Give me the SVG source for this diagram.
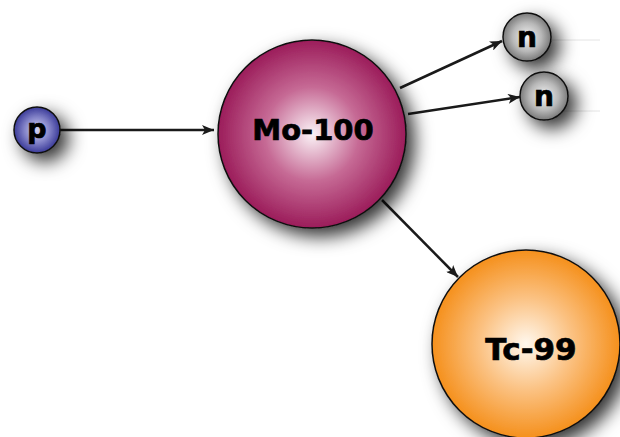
<svg xmlns="http://www.w3.org/2000/svg" width="620" height="437" viewBox="0 0 620 437">
  <defs>
    <radialGradient id="gP" cx="0.5" cy="0.5" r="0.5">
      <stop offset="0" stop-color="#d4d4f2"/>
      <stop offset="0.55" stop-color="#8383c8"/>
      <stop offset="1" stop-color="#3a3a98"/>
    </radialGradient>
    <radialGradient id="gMo" cx="0.5" cy="0.5" r="0.5">
      <stop offset="0" stop-color="#fbf3f7"/>
      <stop offset="0.5" stop-color="#c66a95"/>
      <stop offset="1" stop-color="#9b1c5a"/>
    </radialGradient>
    <radialGradient id="gTc" cx="0.5" cy="0.5" r="0.5">
      <stop offset="0" stop-color="#fff8ee"/>
      <stop offset="0.5" stop-color="#fbc181"/>
      <stop offset="1" stop-color="#f5901c"/>
    </radialGradient>
    <radialGradient id="gN" cx="0.5" cy="0.5" r="0.5">
      <stop offset="0" stop-color="#f4f4f4"/>
      <stop offset="0.6" stop-color="#b8b8b8"/>
      <stop offset="1" stop-color="#7a7a7a"/>
    </radialGradient>
    <filter id="shadow" x="-50%" y="-50%" width="210%" height="210%">
      <feDropShadow dx="8" dy="8" stdDeviation="9" flood-color="#000" flood-opacity="0.8"/>
    </filter>
    <marker id="arrow" viewBox="0 0 12 10" refX="12" refY="5" markerWidth="12" markerHeight="10" markerUnits="userSpaceOnUse" orient="auto">
      <path d="M0,0 L12,5 L0,10 L3,5 Z" fill="#1a1a1a"/>
    </marker>
  </defs>
  <style>
    .ball { stroke: #111; stroke-width: 1.5; filter: url(#shadow); }
    .lbl { font-family: "DejaVu Sans", "Liberation Sans", sans-serif; font-weight: bold; fill: #000; stroke: #000; stroke-width: 0.7; text-anchor: middle; }
    .edge { stroke: #1a1a1a; stroke-width: 2.5; fill: none; marker-end: url(#arrow); }
    .trace { stroke: #d8d8d8; stroke-width: 1; opacity: 0.7; }
  </style>

  <rect width="620" height="437" fill="#ffffff"/>

  <!-- faint horizontal traces behind the neutrons -->
  <g id="traces">
    <line class="trace" x1="527" y1="40" x2="600" y2="40"/>
    <line class="trace" x1="545" y1="111" x2="600" y2="111"/>
  </g>

  <g id="connectors">
    <line class="edge" x1="60" y1="130" x2="214" y2="130"/>
    <line class="edge" x1="400" y1="88" x2="502" y2="41"/>
    <line class="edge" x1="408" y1="114" x2="520" y2="97"/>
    <line class="edge" x1="382" y1="200" x2="458" y2="277"/>
  </g>

  <g id="proton">
    <circle class="ball" cx="37" cy="130" r="23" fill="url(#gP)"/>
    <text class="lbl" x="37" y="138" font-size="27">p</text>
  </g>

  <g id="mo100">
    <circle class="ball" cx="312" cy="134" r="94" fill="url(#gMo)"/>
    <text class="lbl" x="313" y="140" font-size="29">Mo-100</text>
  </g>

  <g id="neutron1">
    <circle class="ball" cx="527" cy="37" r="24" fill="url(#gN)"/>
    <text class="lbl" x="527" y="47" font-size="28">n</text>
  </g>

  <g id="neutron2">
    <circle class="ball" cx="544" cy="96" r="24" fill="url(#gN)"/>
    <text class="lbl" x="544" y="106" font-size="28">n</text>
  </g>

  <g id="tc99">
    <circle class="ball" cx="526" cy="344" r="94" fill="url(#gTc)"/>
    <text class="lbl" x="531" y="360" font-size="31">Tc-99</text>
  </g>
</svg>
